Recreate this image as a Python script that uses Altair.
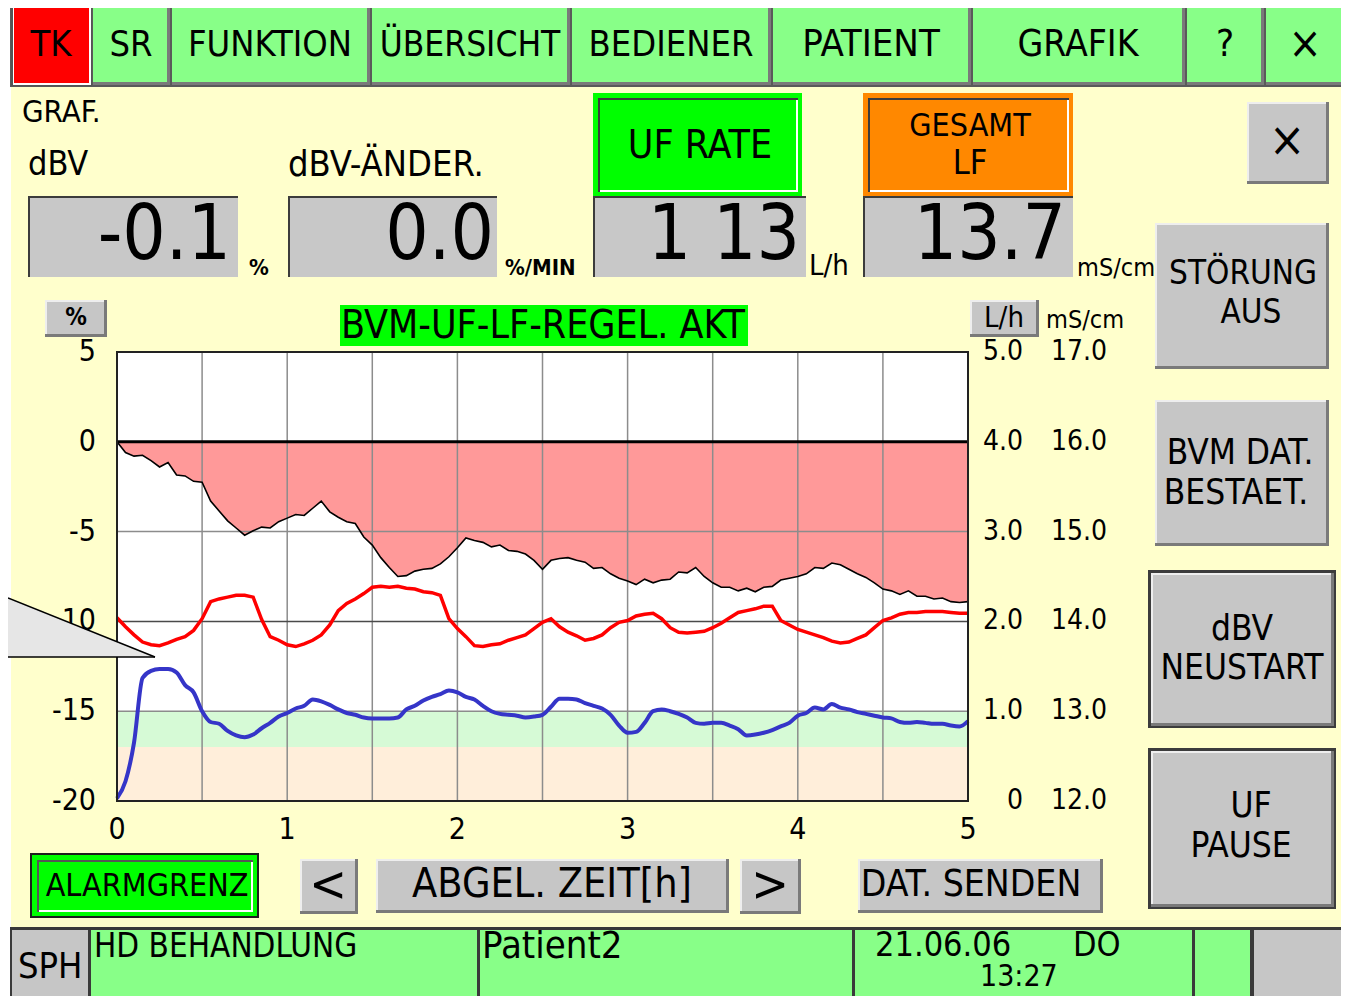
import altair as alt
import pandas as pd

OFF = 8                     # page margin: chart origin sits at page (8, 8)
W, H = 1333, 988            # fits the 1349x1004 window with its 8px margins
PAGE_W, PAGE_H = OFF + W, OFF + H
FONT = "DejaVu Sans Condensed, Liberation Sans Narrow, DejaVu Sans, sans-serif"

# ---------------- data ----------------
hours = [round(i * 0.05, 2) for i in range(101)]

dbv_pct = [
    0, -0.6, -0.8, -0.75, -1.05, -1.4, -1.15, -1.85, -1.9, -2.2,
    -2.25, -3.3, -3.85, -4.4, -4.8, -5.2, -4.95, -4.75, -4.8, -4.45,
    -4.25, -4.05, -4.1, -3.7, -3.3, -3.9, -4.2, -4.45, -4.55, -5.3,
    -5.75, -6.45, -7.0, -7.5, -7.45, -7.2, -7.1, -7.05, -6.8, -6.4,
    -5.9, -5.35, -5.5, -5.6, -5.85, -5.75, -6.05, -6.1, -6.25, -6.6,
    -7.1, -6.6, -6.5, -6.45, -6.6, -6.7, -7.05, -7.0, -7.35, -7.6,
    -7.75, -7.95, -7.65, -7.85, -7.7, -7.65, -7.25, -7.3, -7.0, -7.5,
    -7.85, -8.1, -8.1, -8.3, -8.15, -8.35, -8.1, -8.05, -7.7, -7.6,
    -7.5, -7.35, -7.0, -7.05, -6.75, -6.85, -7.1, -7.35, -7.55, -7.85,
    -8.2, -8.3, -8.5, -8.3, -8.6, -8.6, -8.75, -8.7, -8.9, -8.95,
    -8.9,
]

cond_mscm = [
    14.04, 13.94, 13.85, 13.77, 13.74, 13.73, 13.76, 13.80, 13.83, 13.90,
    14.03, 14.22, 14.25, 14.27, 14.29, 14.29, 14.27, 14.02, 13.83, 13.79,
    13.74, 13.72, 13.75, 13.79, 13.85, 13.96, 14.12, 14.20, 14.25, 14.31,
    14.38, 14.39, 14.38, 14.39, 14.37, 14.36, 14.33, 14.32, 14.29, 14.03,
    13.92, 13.83, 13.73, 13.72, 13.74, 13.75, 13.79, 13.82, 13.85, 13.92,
    13.99, 14.03, 13.94, 13.88, 13.84, 13.79, 13.81, 13.85, 13.93, 13.99,
    14.01, 14.06, 14.08, 14.09, 14.03, 13.93, 13.88, 13.87, 13.88, 13.89,
    13.93, 13.98, 14.04, 14.10, 14.12, 14.14, 14.17, 14.17, 14.01, 13.96,
    13.91, 13.88, 13.85, 13.82, 13.78, 13.76, 13.77, 13.81, 13.85, 13.93,
    14.01, 14.04, 14.08, 14.10, 14.10, 14.11, 14.11, 14.11, 14.10, 14.09,
    14.09,
]

uf_lh = [
    0.03, 0.22, 0.65, 1.37, 1.45, 1.47, 1.47, 1.43, 1.29, 1.21,
    1.00, 0.88, 0.86, 0.78, 0.73, 0.71, 0.74, 0.81, 0.87, 0.94,
    0.98, 1.03, 1.06, 1.13, 1.11, 1.07, 1.02, 0.98, 0.96, 0.93,
    0.92, 0.92, 0.92, 0.93, 1.02, 1.06, 1.12, 1.16, 1.19, 1.23,
    1.21, 1.16, 1.13, 1.06, 1.00, 0.97, 0.96, 0.95, 0.93, 0.94,
    0.96, 1.05, 1.14, 1.14, 1.13, 1.09, 1.06, 1.03, 0.96, 0.84,
    0.76, 0.77, 0.87, 1.00, 1.02, 1.00, 0.97, 0.93, 0.87, 0.86,
    0.87, 0.87, 0.84, 0.80, 0.73, 0.74, 0.76, 0.79, 0.83, 0.87,
    0.95, 0.98, 1.04, 1.02, 1.08, 1.04, 1.02, 0.99, 0.97, 0.95,
    0.93, 0.92, 0.88, 0.87, 0.88, 0.87, 0.86, 0.86, 0.84, 0.83,
    0.89,
]

pct_ticks = [5, 0, -5, -10, -15, -20]
uf_ticks = [5, 4, 3, 2, 1, 0]
uf_tick_labels = ["5.0", "4.0", "3.0", "2.0", "1.0", "0"]
cond_ticks = [17, 16, 15, 14, 13, 12]
cond_tick_labels = ["17.0", "16.0", "15.0", "14.0", "13.0", "12.0"]
time_ticks = [0, 1, 2, 3, 4, 5]
grid_hours = [0.5, 1, 1.5, 2, 2.5, 3, 3.5, 4, 4.5]
grid_pct_light = [-5, -15]
grid_pct_dark = [-10]
band_lo = [-17, -20]
band_hi = [-15, -17]
band_fill = ["#D6FAD6", "#FFEEDA"]

readout_values = ["-0.1", "0.0", "1 13", "13.7"]

# ---------------- screen layout (page pixels) ----------------
GREEN = "#88FF88"
BRIGHT = "#00FF00"
GRAY = "#C6C6C6"
SHADOW = "#7A7A7A"
HILITE = "#EEEEEE"

rects = []  # (x1, y1, x2, y2, fill)


def raised(x1, y1, x2, y2, face, hl=HILITE):
    rects.append((x1, y1, x2, y2, SHADOW))
    rects.append((x1, y1, x2 - 3, y2 - 3, hl))
    rects.append((x1 + 2, y1 + 2, x2 - 3, y2 - 3, face))


def sunken(x1, y1, x2, y2, face):
    rects.append((x1, y1, x2, y2, "#3C3C3C"))
    rects.append((x1 + 2, y1 + 2, x2, y2, face))


def framed(x1, y1, x2, y2, outer, face):
    rects.append((x1, y1, x2, y2, outer))
    rects.append((x1 + 5, y1 + 5, x2 - 4, y2 - 4, "#3C3C3C"))
    rects.append((x1 + 7, y1 + 7, x2 - 4, y2 - 4, "#FFFFFF"))
    rects.append((x1 + 7, y1 + 7, x2 - 6, y2 - 6, face))


# background
rects.append((11, 86, 1346, 928, "#FFFFCC"))
rects.append((10, 3, 1347, 87, "#5A5A5A"))
# top menu
rects.append((11, 4, 92, 86, "#555555"))
rects.append((13, 6, 91, 85, "#FFFFFF"))
rects.append((14, 7, 89, 83, "#FF0000"))
for x1, x2 in [(93, 170), (172, 370), (372, 570), (572, 771), (773, 971),
               (973, 1185), (1187, 1264), (1266, 1346)]:
    raised(x1, 5, x2, 85, GREEN, GREEN)
# header buttons / readouts
framed(593, 93, 802, 196, BRIGHT, BRIGHT)
framed(863, 93, 1073, 196, "#FF8800", "#FF8800")
for x1, x2 in [(28, 238), (288, 497), (593, 806), (863, 1073)]:
    sunken(x1, 196, x2, 277, "#C8C8C8")
raised(1247, 102, 1329, 184, GRAY)
raised(1155, 223, 1329, 369, GRAY)
raised(1155, 400, 1329, 546, GRAY)
rects.append((1148, 570, 1336, 728, "#3C3C3C"))
raised(1151, 573, 1334, 726, GRAY)
rects.append((1148, 748, 1336, 909, "#3C3C3C"))
raised(1151, 751, 1334, 907, GRAY)
# plot header
raised(45, 300, 107, 337, GRAY)
raised(970, 300, 1039, 337, GRAY)
rects.append((340, 305, 748, 346, BRIGHT))
# bottom buttons
rects.append((30, 853, 259, 918, "#1E1E1E"))
rects.append((32, 855, 257, 916, BRIGHT))
rects.append((37, 860, 253, 912, "#555555"))
rects.append((39, 862, 253, 912, "#FFFFFF"))
rects.append((39, 862, 251, 910, BRIGHT))
raised(300, 859, 358, 914, GRAY)
raised(376, 859, 729, 913, GRAY)
raised(740, 859, 801, 914, GRAY)
raised(858, 859, 1103, 913, GRAY)
# status bar
rects.append((10, 927, 1349, 1004, "#3A3A3A"))
rects.append((12, 930, 88, 1004, GRAY))
for x1, x2 in [(91, 477), (480, 852), (855, 1192), (1195, 1250)]:
    rects.append((x1, 930, x2, 1004, GREEN))
rects.append((1254, 930, 1346, 1004, GRAY))

# texts: (text, x, y, size, align, weight)
texts = [
    ("TK", 51, 45, 36, "center", "normal"),
    ("SR", 131, 45, 36, "center", "normal"),
    ("FUNKTION", 270, 45, 36, "center", "normal"),
    ("ÜBERSICHT", 470, 45, 35, "center", "normal"),
    ("BEDIENER", 671, 45, 36, "center", "normal"),
    ("PATIENT", 871, 45, 38, "center", "normal"),
    ("GRAFIK", 1078, 45, 37, "center", "normal"),
    ("?", 1225, 45, 38, "center", "normal"),
    ("×", 1305, 45, 44, "center", "normal"),
    ("×", 1287, 142, 48, "center", "normal"),
    ("UF RATE", 700, 146, 39, "center", "normal"),
    ("GESAMT", 970, 126, 32, "center", "normal"),
    ("LF", 970, 164, 34, "center", "normal"),
    ("STÖRUNG", 1243, 274, 33, "center", "normal"),
    ("AUS", 1251, 313, 33, "center", "normal"),
    ("BVM DAT.", 1240, 453, 35, "center", "normal"),
    ("BESTAET.", 1236, 493, 35, "center", "normal"),
    ("dBV", 1242, 629, 35, "center", "normal"),
    ("NEUSTART", 1242, 668, 35, "center", "normal"),
    ("UF", 1251, 806, 35, "center", "normal"),
    ("PAUSE", 1241, 846, 35, "center", "normal"),
    ("%", 76, 318, 24, "center", "bold"),
    ("L/h", 1004, 318, 29, "center", "normal"),
    ("BVM-UF-LF-REGEL. AKT", 543, 326, 39, "center", "normal"),
    ("ALARMGRENZ", 147, 886, 32, "center", "normal"),
    ("<", 328, 886, 50, "center", "normal"),
    ("ABGEL. ZEIT[h]", 552, 885, 41, "center", "normal"),
    (">", 770, 886, 50, "center", "normal"),
    ("DAT. SENDEN", 971, 885, 37, "center", "normal"),
    ("GRAF.", 22, 113, 31, "left", "normal"),
    ("dBV", 28, 165, 34, "left", "normal"),
    ("dBV-ÄNDER.", 288, 165, 36, "left", "normal"),
    ("%", 249, 268, 22, "left", "bold"),
    ("%/MIN", 505, 268, 22, "left", "bold"),
    ("L/h", 809, 266, 29, "left", "normal"),
    ("mS/cm", 1077, 268, 25, "left", "normal"),
    ("mS/cm", 1046, 320, 25, "left", "normal"),
    ("SPH", 18, 967, 36, "left", "normal"),
    ("HD BEHANDLUNG", 94, 947, 33, "left", "normal"),
    ("Patient2", 482, 947, 38, "left", "normal"),
    ("21.06.06", 875, 946, 34, "left", "normal"),
    ("DO", 1073, 946, 34, "left", "normal"),
    ("13:27", 980, 977, 30, "left", "normal"),
]
# right edge of each big readout
readout_right_x = [231, 494, 800, 1066]
READOUT_Y, READOUT_FS = 236, 76

# plot frame in page pixels
PX0, PX1, PY_TOP, PY_BOT = 117, 968, 352, 801

# ---------------- build ----------------
rect_df = pd.DataFrame(
    [dict(x=a - OFF, y=b - OFF, x2=min(c, PAGE_W) - OFF, y2=min(d, PAGE_H) - OFF, fill=f)
     for a, b, c, d, f in rects]
)
ui_rects = alt.Chart(rect_df).mark_rect().encode(
    x=alt.X("x:Q", scale=None), x2="x2:Q",
    y=alt.Y("y:Q", scale=None), y2="y2:Q",
    fill=alt.Fill("fill:N", scale=None),
)


def text_layer(rows, align, weight):
    df = pd.DataFrame([dict(text=t, x=x - OFF, y=y - OFF, fs=s) for t, x, y, s, a, w in rows
                       if a == align and w == weight])
    return alt.Chart(df).mark_text(
        align=align, baseline="middle", font=FONT, fontWeight=weight, color="#000000"
    ).encode(
        x=alt.X("x:Q", scale=None), y=alt.Y("y:Q", scale=None),
        text="text:N", size=alt.Size("fs:Q", scale=None),
    )


readout_df = pd.DataFrame(dict(
    text=readout_values, x=[v - OFF for v in readout_right_x],
    y=[READOUT_Y - OFF] * len(readout_values), fs=[READOUT_FS] * len(readout_values),
))
readouts = alt.Chart(readout_df).mark_text(
    align="right", baseline="middle", font=FONT, color="#000000"
).encode(
    x=alt.X("x:Q", scale=None), y=alt.Y("y:Q", scale=None),
    text="text:N", size=alt.Size("fs:Q", scale=None),
)

XR = [PX0 - OFF, PX1 - OFF]
YR = [PY_BOT - OFF, PY_TOP - OFF]
xs = alt.Scale(domain=[0, 5], range=XR, nice=False, zero=False)
ys_pct = alt.Scale(domain=[-20, 5], range=YR, nice=False, zero=False)
ys_cond = alt.Scale(domain=[12, 17], range=YR, nice=False, zero=False)
ys_uf = alt.Scale(domain=[0, 5], range=YR, nice=False, zero=False)

series = pd.DataFrame(dict(t=hours, dbv=dbv_pct, cond=cond_mscm, uf=uf_lh, zero=[0] * len(hours)))

frame_df = pd.DataFrame(dict(t0=[0], t1=[5], v0=[-20], v1=[5]))
plot_bg = alt.Chart(frame_df).mark_rect(color="#FFFFFF").encode(
    x=alt.X("t0:Q", scale=xs, axis=None), x2="t1:Q",
    y=alt.Y("v0:Q", scale=ys_pct, axis=None), y2="v1:Q",
)
bands_df = pd.DataFrame(dict(t0=[0, 0], t1=[5, 5], v0=band_lo, v1=band_hi, fill=band_fill))
bands = alt.Chart(bands_df).mark_rect().encode(
    x=alt.X("t0:Q", scale=xs, axis=None), x2="t1:Q",
    y=alt.Y("v0:Q", scale=ys_pct, axis=None), y2="v1:Q",
    fill=alt.Fill("fill:N", scale=None),
)
area = alt.Chart(series).mark_area(color="#FF9999").encode(
    x=alt.X("t:Q", scale=xs, axis=None),
    y=alt.Y("dbv:Q", scale=ys_pct, axis=None), y2="zero:Q",
)
vgrid = alt.Chart(pd.DataFrame(dict(t=grid_hours))).mark_rule(color="#8C8C8C", strokeWidth=1.5).encode(
    x=alt.X("t:Q", scale=xs, axis=None),
    y=alt.value(PY_TOP - OFF), y2=alt.value(PY_BOT - OFF),
)
hgrid_light = alt.Chart(pd.DataFrame(dict(v=grid_pct_light))).mark_rule(color="#8C8C8C", strokeWidth=1.5).encode(
    y=alt.Y("v:Q", scale=ys_pct, axis=None),
    x=alt.value(PX0 - OFF), x2=alt.value(PX1 - OFF),
)
hgrid_dark = alt.Chart(pd.DataFrame(dict(v=grid_pct_dark))).mark_rule(color="#4A4A4A", strokeWidth=1.5).encode(
    y=alt.Y("v:Q", scale=ys_pct, axis=None),
    x=alt.value(PX0 - OFF), x2=alt.value(PX1 - OFF),
)
zero_line = alt.Chart(pd.DataFrame(dict(v=[0]))).mark_rule(color="#000000", strokeWidth=3).encode(
    y=alt.Y("v:Q", scale=ys_pct, axis=None),
    x=alt.value(PX0 - OFF), x2=alt.value(PX1 - OFF),
)
dbv_line = alt.Chart(series).mark_line(color="#000000", strokeWidth=1.6).encode(
    x=alt.X("t:Q", scale=xs, axis=None),
    y=alt.Y("dbv:Q", scale=ys_pct, axis=None),
)
end_rule = alt.Chart(series.tail(1)).mark_rule(color="#000000", strokeWidth=2).encode(
    x=alt.X("t:Q", scale=xs, axis=None),
    y=alt.Y("dbv:Q", scale=ys_pct, axis=None), y2="zero:Q",
)
cond_line = alt.Chart(series).mark_line(color="#FF0000", strokeWidth=3.5).encode(
    x=alt.X("t:Q", scale=xs, axis=None),
    y=alt.Y("cond:Q", scale=ys_cond, axis=None),
)
uf_line = alt.Chart(series).mark_line(color="#3535C8", strokeWidth=4, interpolate="monotone").encode(
    x=alt.X("t:Q", scale=xs, axis=None),
    y=alt.Y("uf:Q", scale=ys_uf, axis=None),
)
border = alt.Chart(frame_df).mark_rect(filled=False, stroke="#222222", strokeWidth=2).encode(
    x=alt.X("t0:Q", scale=xs, axis=None), x2="t1:Q",
    y=alt.Y("v0:Q", scale=ys_pct, axis=None), y2="v1:Q",
)

left_ticks = alt.Chart(pd.DataFrame(dict(v=pct_ticks, lab=[str(v) for v in pct_ticks]))).mark_text(
    align="right", baseline="middle", font=FONT, fontSize=30, color="#000000"
).encode(y=alt.Y("v:Q", scale=ys_pct, axis=None), x=alt.value(96 - OFF), text="lab:N")
uf_tick_text = alt.Chart(pd.DataFrame(dict(v=uf_ticks, lab=uf_tick_labels))).mark_text(
    align="right", baseline="middle", font=FONT, fontSize=28, color="#000000"
).encode(y=alt.Y("v:Q", scale=ys_uf, axis=None), x=alt.value(1023 - OFF), text="lab:N")
cond_tick_text = alt.Chart(pd.DataFrame(dict(v=cond_ticks, lab=cond_tick_labels))).mark_text(
    align="right", baseline="middle", font=FONT, fontSize=28, color="#000000"
).encode(y=alt.Y("v:Q", scale=ys_cond, axis=None), x=alt.value(1107 - OFF), text="lab:N")
time_tick_text = alt.Chart(pd.DataFrame(dict(t=time_ticks, lab=[str(v) for v in time_ticks]))).mark_text(
    align="center", baseline="middle", font=FONT, fontSize=30, color="#000000"
).encode(x=alt.X("t:Q", scale=xs, axis=None), y=alt.value(830 - OFF), text="lab:N")

# speech-bubble tail coming in from the left
callout_df = pd.DataFrame(dict(x=[8 - OFF, 155 - OFF], y=[598 - OFF, 657 - OFF], y2=[657 - OFF, 657 - OFF]))
callout = alt.Chart(callout_df).mark_area(color="#E6E6E6", opacity=1).encode(
    x=alt.X("x:Q", scale=None), y=alt.Y("y:Q", scale=None), y2="y2:Q",
)
callout_edges = alt.Chart(pd.DataFrame(dict(
    x=[8 - OFF, 8 - OFF], y=[598 - OFF, 657 - OFF], x2=[155 - OFF, 155 - OFF], y2=[657 - OFF, 657 - OFF]
))).mark_rule(color="#000000", strokeWidth=1.5).encode(
    x=alt.X("x:Q", scale=None), y=alt.Y("y:Q", scale=None), x2="x2:Q", y2="y2:Q",
)

layers = [
    ui_rects, plot_bg, bands, area, vgrid, hgrid_light, hgrid_dark,
    dbv_line, end_rule, zero_line, cond_line, uf_line, border,
    left_ticks, uf_tick_text, cond_tick_text, time_tick_text,
    callout, callout_edges,
    text_layer(texts, "center", "normal"), text_layer(texts, "center", "bold"),
    text_layer(texts, "left", "normal"), text_layer(texts, "left", "bold"),
    readouts,
]

chart = alt.layer(*layers).resolve_scale(
    x="independent", y="independent"
).properties(
    width=W, height=H, autosize=alt.AutoSizeParams(type="none"), padding=0,
    background="#FFFFFF",
).configure_view(stroke=None)

chart.save("out.html", embed_options={"renderer": "svg", "actions": False})
